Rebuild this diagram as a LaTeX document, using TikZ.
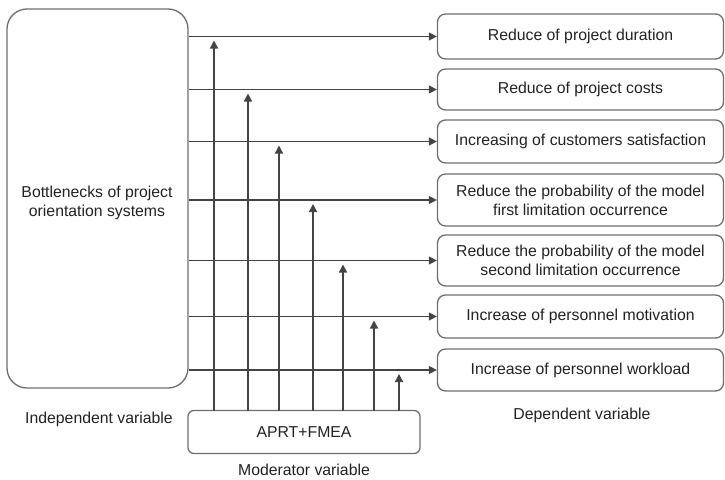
\documentclass[tikz,border=0pt]{standalone}
\usepackage{fontspec}
\setmainfont{Liberation Sans}
\usetikzlibrary{arrows.meta,calc}
\definecolor{linegray}{HTML}{444444}
\definecolor{boxgray}{HTML}{6E6E6E}
\definecolor{ink}{HTML}{222222}
\begin{document}
\begin{tikzpicture}[x=1pt,y=-1pt,
  every node/.style={font=\fontsize{15.8}{19}\selectfont, text=ink},
  outbox/.style={draw=boxgray, line width=1.3pt, rounded corners=8pt,
    minimum width=286pt, align=center, inner sep=0pt},
  link/.style={draw=linegray, line width=1.3pt, -{Triangle[length=8pt,width=8pt]}},
  label/.style={inner sep=0pt}]
\useasboundingbox (0,0) rectangle (725,479);

% independent variable
\node[draw=boxgray, line width=1.3pt, rounded corners=20pt,
      minimum width=181pt, minimum height=379pt, inner sep=0pt] (src) at (97.5,198.5) {};
\node[align=center, inner sep=0pt] (srctext) at (97,203)
  {Bottlenecks of project\\orientation systems};

% dependent variables
\node[outbox, minimum height=45pt] (r1) at (580.5,36.5) {Reduce of project duration};
\node[outbox, minimum height=41pt] (r2) at (580.5,89.5) {Reduce of project costs};
\node[outbox, minimum height=43pt] (r3) at (580.5,141.5) {Increasing of customers satisfaction};
\node[outbox, minimum height=52pt] (r4) at (580.5,200) {Reduce the probability of the model\\first limitation occurrence};
\node[outbox, minimum height=51pt] (r5) at (580.5,260.5) {Reduce the probability of the model\\second limitation occurrence};
\node[outbox, minimum height=43pt] (r6) at (580.5,316.5) {Increase of personnel motivation};
\node[outbox, minimum height=42pt] (r7) at (580.5,370) {Increase of personnel workload};

% moderator
\node[draw=boxgray, line width=1.3pt, rounded corners=6pt,
      minimum width=232pt, minimum height=43pt, inner sep=0pt] (mod) at (304,432) {APRT+FMEA};

% captions
\node[label] (lind) at (99,419) {Independent variable};
\node[label] (ldep) at (582,415) {Dependent variable};
\node[label] (lmod) at (304,470) {Moderator variable};

% feet of the moderator lines on the top of the moderator box
\foreach \i/\x in {1/214,2/248,3/279,4/313,5/343,6/374,7/399}
  \coordinate (m\i) at (\x,411);

% direct effects
\foreach \i in {1,...,7}
  \draw[link] (src.east |- r\i.west) -- (r\i.west);

% moderating effects
\foreach \i in {1,...,7}
  \draw[link] (m\i) -- ($(m\i |- r\i.west)+(0,4)$);
\end{tikzpicture}
\end{document}
